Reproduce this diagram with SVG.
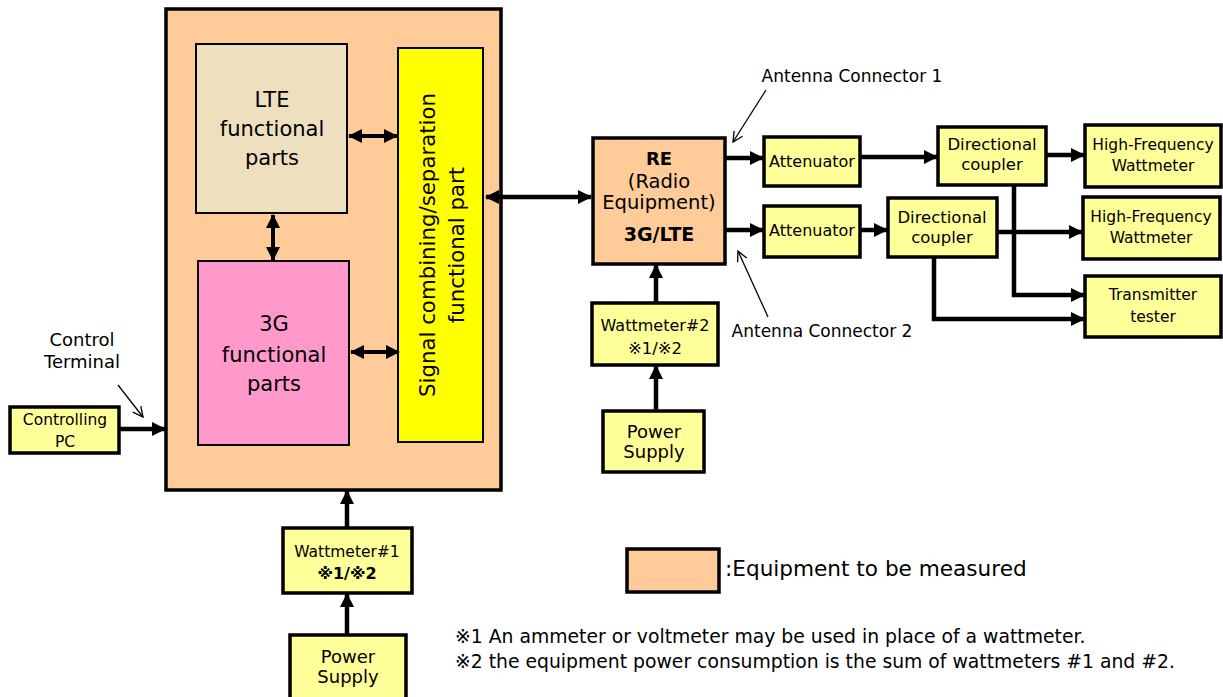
<svg xmlns="http://www.w3.org/2000/svg" width="1223" height="697" viewBox="0 0 1223 697">
<defs>
<style>
text{font-family:"DejaVu Sans","Noto Sans CJK JP",sans-serif;fill:#000;text-anchor:middle}
.box{stroke:#000;stroke-width:3.5}
.inner{stroke:#000;stroke-width:2}
.ly{fill:#FFFF99}
.peach{fill:#FFCC99}
.thick{stroke:#000;stroke-width:4.5;fill:none}
.thin{stroke:#000;stroke-width:1.3;fill:none}
.b{font-weight:bold}
</style>
<marker id="ah" markerUnits="userSpaceOnUse" markerWidth="14" markerHeight="14" refX="13" refY="7" orient="auto-start-reverse" viewBox="0 0 14 14">
<path d="M0,0 L14,7 L0,14 z" fill="#000"/>
</marker>
<marker id="oh" markerUnits="userSpaceOnUse" markerWidth="12" markerHeight="12" refX="11" refY="6" orient="auto" viewBox="0 0 12 12">
<path d="M1,1 L11,6 L1,11" fill="none" stroke="#000" stroke-width="1.3"/>
</marker>
</defs>
<rect width="1223" height="697" fill="#fff"/>

<g id="main">
<rect class="box peach" x="166" y="9" width="335" height="481"/>
</g>
<g id="lte">
<rect class="inner" fill="#EEE0BF" x="196" y="44" width="151" height="169"/>
<text font-size="21" x="272" y="107">LTE</text>
<text font-size="21" x="272" y="136">functional</text>
<text font-size="21" x="272" y="165">parts</text>
</g>
<g id="g3">
<rect class="inner" fill="#FF99CC" x="198" y="261" width="151" height="184"/>
<text font-size="21" x="274" y="331">3G</text>
<text font-size="21" x="274" y="362">functional</text>
<text font-size="21" x="274" y="391">parts</text>
</g>
<g id="signal">
<rect class="inner" fill="#FFFF00" x="398" y="48" width="85" height="394"/>
<text font-size="21.3" transform="translate(435,245) rotate(-90)">Signal combining/separation</text>
<text font-size="21.3" transform="translate(464,245) rotate(-90)">functional part</text>
</g>
<g id="pc">
<rect class="box ly" x="10" y="407" width="109" height="46"/>
<text font-size="15.5" x="65" y="425">Controlling</text>
<text font-size="15.5" x="65" y="447">PC</text>
</g>
<g id="ctl-label">
<text font-size="18" x="82" y="346">Control</text>
<text font-size="18" x="82" y="368">Terminal</text>
</g>
<g id="re">
<rect class="box peach" x="593" y="138" width="132" height="126"/>
<text class="b" font-size="18" x="659" y="165">RE</text>
<text font-size="19.5" x="659" y="188">(Radio</text>
<text font-size="19.5" x="659" y="209">Equipment)</text>
<text class="b" font-size="19" x="659" y="241">3G/LTE</text>
</g>
<g id="att1">
<rect class="box ly" x="764" y="137" width="96" height="49"/>
<text font-size="16" x="812" y="167">Attenuator</text>
</g>
<g id="att2">
<rect class="box ly" x="764" y="206" width="96" height="51"/>
<text font-size="16" x="812" y="236">Attenuator</text>
</g>
<g id="dc1">
<rect class="box ly" x="938" y="127" width="108" height="58"/>
<text font-size="16.5" x="992" y="150">Directional</text>
<text font-size="16.5" x="992" y="170">coupler</text>
</g>
<g id="dc2">
<rect class="box ly" x="888" y="198" width="109" height="59"/>
<text font-size="16.5" x="942" y="223">Directional</text>
<text font-size="16.5" x="942" y="243">coupler</text>
</g>
<g id="hfw1">
<rect class="box ly" x="1085" y="125" width="136" height="62"/>
<text font-size="15.5" x="1153" y="150">High-Frequency</text>
<text font-size="15.5" x="1153" y="171">Wattmeter</text>
</g>
<g id="hfw2">
<rect class="box ly" x="1083" y="197" width="137" height="62"/>
<text font-size="15.5" x="1151" y="222">High-Frequency</text>
<text font-size="15.5" x="1151" y="243">Wattmeter</text>
</g>
<g id="tt">
<rect class="box ly" x="1085" y="276" width="136" height="61"/>
<text font-size="15.5" x="1153" y="300">Transmitter</text>
<text font-size="15.5" x="1153" y="322">tester</text>
</g>
<g id="ant-labels">
<text font-size="17" x="852" y="82">Antenna Connector 1</text>
<text font-size="17" x="822" y="337">Antenna Connector 2</text>
</g>
<g id="wm2">
<rect class="box ly" x="592" y="303" width="126" height="62"/>
<text font-size="16" x="655" y="331">Wattmeter#2</text>
<text font-size="16.5" x="655" y="354">※1/※2</text>
</g>
<g id="ps2">
<rect class="box ly" x="603" y="411" width="101" height="61"/>
<text font-size="18" x="654" y="438">Power</text>
<text font-size="18" x="654" y="458">Supply</text>
</g>
<g id="wm1">
<rect class="box ly" x="283" y="528" width="129" height="65"/>
<text font-size="15.5" x="347" y="557">Wattmeter#1</text>
<text class="b" font-size="16" x="347" y="579">※1/※2</text>
</g>
<g id="ps1">
<rect class="box ly" x="290" y="635" width="116" height="64"/>
<text font-size="18" x="348" y="663">Power</text>
<text font-size="18" x="348" y="683">Supply</text>
</g>
<g id="legend">
<rect class="box peach" x="627" y="549" width="92" height="43"/>
<text font-size="21.6" x="725" y="576" style="text-anchor:start">:Equipment to be measured</text>
</g>
<g id="notes">
<text font-size="18.8" x="455" y="643" style="text-anchor:start">※1 An ammeter or voltmeter may be used in place of a wattmeter.</text>
<text font-size="18.8" x="455" y="668" style="text-anchor:start">※2 the equipment power consumption is the sum of wattmeters #1 and #2.</text>
</g>

<g id="connectors">
<line class="thick" x1="486" y1="197" x2="591" y2="197" marker-start="url(#ah)" marker-end="url(#ah)"/>
<line class="thick" style="stroke-width:4" x1="349" y1="136" x2="397" y2="136" marker-start="url(#ah)" marker-end="url(#ah)"/>
<line class="thick" style="stroke-width:4" x1="273" y1="215" x2="273" y2="260" marker-start="url(#ah)" marker-end="url(#ah)"/>
<line class="thick" style="stroke-width:4" x1="351" y1="352" x2="399" y2="352" marker-start="url(#ah)" marker-end="url(#ah)"/>
<line class="thick" x1="119" y1="429" x2="165" y2="429" marker-end="url(#ah)"/>
<line class="thick" x1="347" y1="527" x2="347" y2="491" marker-end="url(#ah)"/>
<line class="thick" x1="347" y1="634" x2="347" y2="594" marker-end="url(#ah)"/>
<line class="thick" x1="656" y1="302" x2="656" y2="265" marker-end="url(#ah)"/>
<line class="thick" x1="656" y1="410" x2="656" y2="366" marker-end="url(#ah)"/>
<line class="thick" x1="725" y1="158" x2="763" y2="158" marker-end="url(#ah)"/>
<line class="thick" x1="860" y1="157" x2="937" y2="157" marker-end="url(#ah)"/>
<line class="thick" x1="1046" y1="155" x2="1084" y2="155" marker-end="url(#ah)"/>
<line class="thick" x1="725" y1="230" x2="763" y2="230" marker-end="url(#ah)"/>
<line class="thick" x1="860" y1="230" x2="887" y2="230" marker-end="url(#ah)"/>
<line class="thick" x1="997" y1="232" x2="1082" y2="232" marker-end="url(#ah)"/>
<polyline class="thick" points="1014,186 1014,295 1084,295" marker-end="url(#ah)"/>
<polyline class="thick" points="934,258 934,319 1084,319" marker-end="url(#ah)"/>
<line class="thin" x1="766" y1="90" x2="733" y2="142" marker-end="url(#oh)"/>
<line class="thin" x1="768" y1="317" x2="738" y2="251" marker-end="url(#oh)"/>
<line class="thin" x1="118" y1="385" x2="143" y2="417" marker-end="url(#oh)"/>
</g>
</svg>
